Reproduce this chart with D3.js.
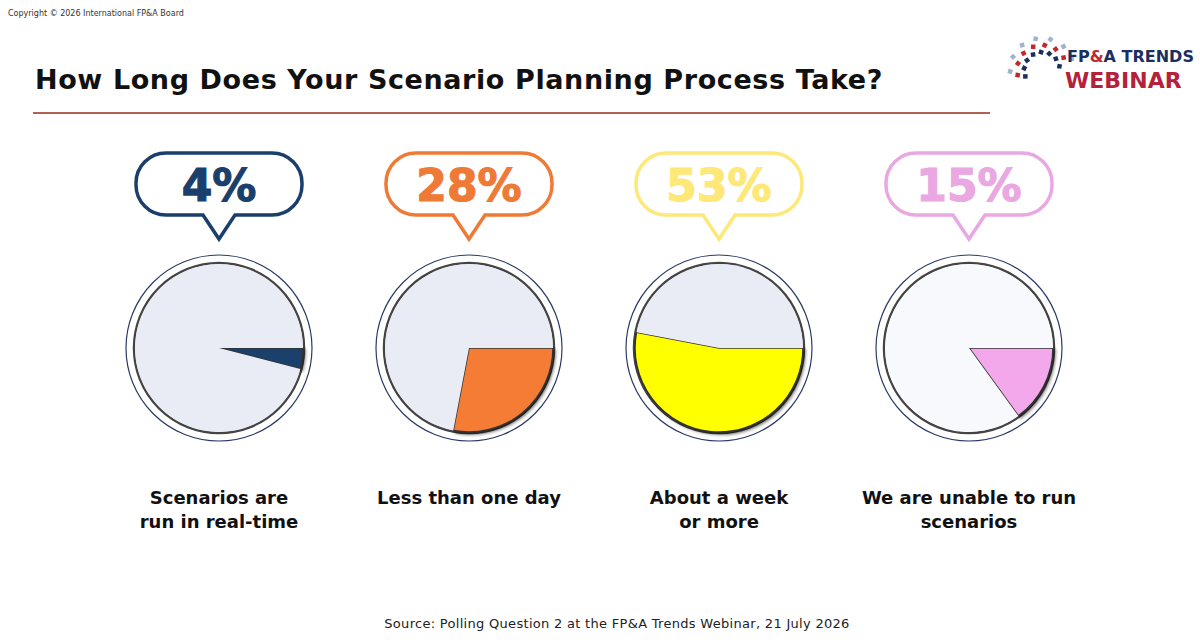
<!DOCTYPE html>
<html><head><meta charset="utf-8">
<script src="https://cdn.jsdelivr.net/npm/d3@7"></script>
<style>body{margin:0;background:#fff;font-family:Tahoma,"DejaVu Sans",sans-serif}</style>
</head><body><svg id="c"></svg>
<script>
const answers = ['Scenarios are|run in real-time', 'Less than one day', 'About a week|or more', 'We are unable to run|scenarios'];
const shares = [4, 28, 53, 15];
const sliceColors = ['#1b3f6c', '#f47b36', '#ffff00', '#f2a8ea'];
const bubbleColors = ['#1b3f6c', '#ef7a35', '#fde878', '#e9a8e1'];
const textColors = ['#1b3f6c', '#ef7a35', '#fde878', '#e9a8e1'];
const restColors = ['#e9ecf4', '#e9ecf4', '#e9ecf4', '#f7f9fc'];

const w = 1200, h = 644;
const svg = d3.select('#c').attr('width', w).attr('height', h);

svg.append('text').attr('x', 8).attr('y', 16).attr('font-size', 8).attr('fill', '#333')
  .text('Copyright © 2026 International FP&A Board');
svg.append('text').attr('x', 35).attr('y', 89).attr('font-size', 27).attr('font-weight', 'bold')
  .attr('letter-spacing', 0.6).attr('fill', '#111').text('How Long Does Your Scenario Planning Process Take?');
svg.append('line').attr('x1', 33).attr('x2', 990).attr('y1', 113).attr('y2', 113)
  .attr('stroke', '#9b2a1a').attr('stroke-width', 1.5);

// logo
const logo = svg.append('g');
for (let i = 0; i < 22; i++) {
  const a = (160 + i * 9) * Math.PI / 180, rr = 18 + (i % 3) * 7;
  logo.append('rect').attr('x', 1040 + rr * Math.cos(a)).attr('y', 68 + rr * Math.sin(a))
    .attr('width', 4.5).attr('height', 4.5)
    .attr('fill', ['#1b2f5e', '#c1272d', '#9fb3cc'][i % 3])
    .attr('transform', `rotate(${i * 9} ${1042 + rr * Math.cos(a)} ${70 + rr * Math.sin(a)})`);
}
logo.append('text').attr('x', 1067).attr('y', 62).attr('font-size', 16).attr('font-weight', 'bold')
  .attr('fill', '#1b2f5e').html('FP<tspan fill="#c1272d">&amp;</tspan>A TRENDS');
logo.append('text').attr('x', 1065).attr('y', 88).attr('font-size', 22).attr('font-weight', 'bold')
  .attr('fill', '#b5213a').text('WEBINAR');

const x = d3.scalePoint().domain(d3.range(4)).range([219, 969]);
const r = 84;
const pie = d3.pie().sort(null).startAngle(Math.PI / 2).endAngle(Math.PI / 2 + 2 * Math.PI);
const arc = d3.arc().innerRadius(0).outerRadius(r);

const defs = svg.append('defs');
const f = defs.append('filter').attr('id', 'sh').attr('x', '-20%').attr('y', '-20%').attr('width', '140%').attr('height', '140%');
f.append('feDropShadow').attr('dx', 2).attr('dy', 2).attr('stdDeviation', 1.5).attr('flood-color', '#000').attr('flood-opacity', 0.55);

shares.forEach((v, i) => {
  const g = svg.append('g').attr('transform', `translate(${x(i)},0)`);
  // bubble
  const bw = 166, bh = 62, by = 153, cr = 30;
  const p = d3.path();
  p.moveTo(-bw / 2 + cr, by); p.lineTo(bw / 2 - cr, by);
  p.arcTo(bw / 2, by, bw / 2, by + cr, cr); p.arcTo(bw / 2, by + bh, bw / 2 - cr, by + bh, cr);
  p.lineTo(16, by + bh); p.lineTo(0, by + bh + 24); p.lineTo(-16, by + bh);
  p.lineTo(-bw / 2 + cr, by + bh);
  p.arcTo(-bw / 2, by + bh, -bw / 2, by + cr, cr); p.arcTo(-bw / 2, by, -bw / 2 + cr, by, cr);
  p.closePath();
  g.append('path').attr('d', p.toString()).attr('fill', '#fff').attr('stroke', bubbleColors[i]).attr('stroke-width', 3.5);
  g.append('text').attr('y', 201).attr('text-anchor', 'middle').attr('font-size', 44).attr('font-weight', 'bold')
    .attr('font-family', 'Verdana,"DejaVu Sans",sans-serif').attr('stroke', textColors[i]).attr('stroke-width', 1.2)
    .attr('fill', textColors[i]).text(v + '%');

  // pie
  const pg = g.append('g').attr('transform', 'translate(0,348)');
  pg.append('circle').attr('r', 93).attr('fill', '#fff').attr('stroke', '#2b3a66').attr('stroke-width', 1.2);
  pg.append('circle').attr('r', r + 1).attr('fill', '#fff').attr('stroke', '#444').attr('stroke-width', 2.5);
  pg.selectAll('path').data(pie([v, 100 - v])).join('path')
    .attr('d', arc)
    .attr('fill', (d, j) => j === 0 ? sliceColors[i] : restColors[i])
    .attr('stroke', (d, j) => j === 0 ? '#333' : 'none')
    .attr('stroke-width', 1.5)
    .attr('filter', (d, j) => j === 0 ? 'url(#sh)' : null);

  // label
  answers[i].split('|').forEach((t, k) => {
    g.append('text').attr('y', 504 + k * 24).attr('text-anchor', 'middle').attr('font-size', 18)
      .attr('font-weight', 'bold').attr('fill', '#111').text(t);
  });
});

svg.append('text').attr('x', 617).attr('y', 628).attr('text-anchor', 'middle').attr('font-size', 13)
  .attr('letter-spacing', 0.3).attr('fill', '#222').text('Source: Polling Question 2 at the FP&A Trends Webinar, 21 July 2026');
</script></body></html>
